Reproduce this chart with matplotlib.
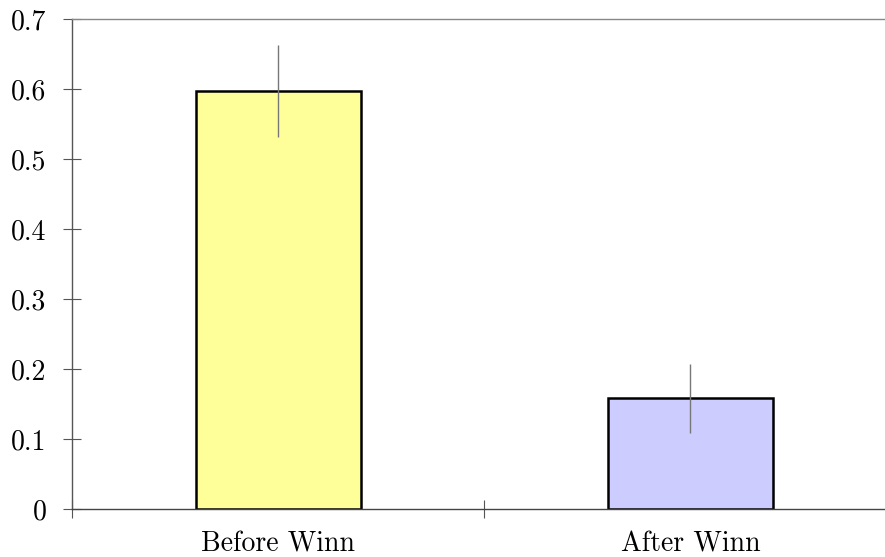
import matplotlib
matplotlib.use('Agg')
import matplotlib.pyplot as plt

# ── Data ────────────────────────────────────────────────────────────────
categories = ['Before Winn', 'After Winn']
means      = [0.597, 0.158]
errors     = [0.066, 0.049]
colors     = ['#FFFF99', '#CCCCFF']
yticks     = [0, 0.1, 0.2, 0.3, 0.4, 0.5, 0.6, 0.7]

plt.rcParams['font.family'] = 'cmr10'
plt.rcParams['axes.formatter.use_mathtext'] = True

fig = plt.figure(figsize=(8.85, 5.57), dpi=100)
ax = fig.add_axes([72/885, 48/557, 824.5/885, 490/557])

x = list(range(len(categories)))
ax.bar(x, means, width=0.4, color=colors, edgecolor='black', linewidth=1.8, zorder=2)
ax.errorbar(x, means, yerr=errors, fmt='none', ecolor='#777777', elinewidth=1.0, zorder=3)

ax.set_xlim(-0.5, 1.5)
ax.set_ylim(0, 0.7)

# major x ticks sit between the bars, labels go on minor ticks
ax.set_xticks([-0.5, 0.5, 1.5])
ax.set_xticklabels([])
ax.set_xticks(x, minor=True)
ax.set_xticklabels(categories, minor=True, fontsize=20)
ax.tick_params(axis='x', which='major', direction='inout', length=13, width=0.8, color='#555555')
ax.tick_params(axis='x', which='minor', length=0, pad=16)

ax.set_yticks(yticks)
ax.set_yticklabels([f'{v:g}' for v in yticks], fontsize=20)
ax.tick_params(axis='y', direction='inout', length=13, width=0.8, color='#555555', pad=12)

ax.spines['right'].set_visible(False)
ax.spines['left'].set_color('#555555')
ax.spines['bottom'].set_color('#444444')
ax.spines['top'].set_color('#888888')
for s in ['left', 'bottom', 'top']:
    ax.spines[s].set_linewidth(1.0)

fig.savefig('out.png', dpi=100, facecolor='white')
